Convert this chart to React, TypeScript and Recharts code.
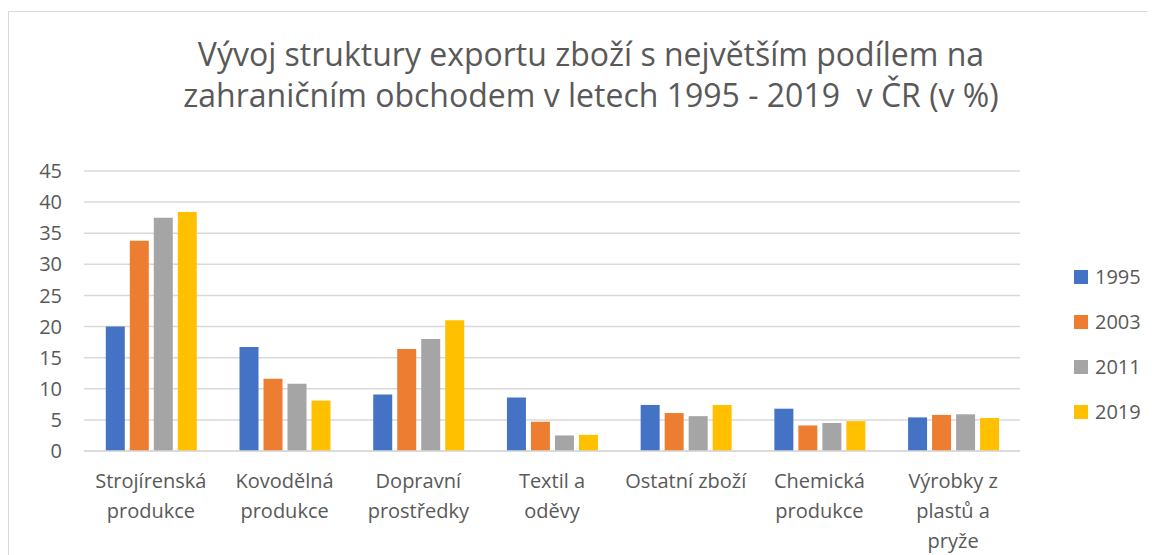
import { BarChart, Bar, XAxis, YAxis, CartesianGrid, Legend } from 'recharts';

const categories = [
  'Strojírenská produkce',
  'Kovodělná produkce',
  'Dopravní prostředky',
  'Textil a oděvy',
  'Ostatní zboží',
  'Chemická produkce',
  'Výrobky z plastů a pryže',
];

// label line breaks as in the original
const categoryLines = [
  ['Strojírenská', 'produkce'],
  ['Kovodělná', 'produkce'],
  ['Dopravní', 'prostředky'],
  ['Textil a', 'oděvy'],
  ['Ostatní zboží'],
  ['Chemická', 'produkce'],
  ['Výrobky z', 'plastů a', 'pryže'],
];

const y1995 = [20.0, 16.7, 9.1, 8.6, 7.4, 6.8, 5.4];
const y2003 = [33.8, 11.6, 16.4, 4.7, 6.1, 4.1, 5.8];
const y2011 = [37.5, 10.8, 18.0, 2.5, 5.6, 4.5, 5.9];
const y2019 = [38.4, 8.1, 21.0, 2.6, 7.4, 4.8, 5.3];

const yTicks = [0, 5, 10, 15, 20, 25, 30, 35, 40, 45];

const series = [
  { key: 'y1995', name: '1995', color: '#4472C4' },
  { key: 'y2003', name: '2003', color: '#ED7D31' },
  { key: 'y2011', name: '2011', color: '#A5A5A5' },
  { key: 'y2019', name: '2019', color: '#FFC000' },
];

const data = categories.map((name, i) => ({
  name,
  y1995: y1995[i],
  y2003: y2003[i],
  y2011: y2011[i],
  y2019: y2019[i],
}));

const FONT = '"Open Sans", sans-serif';
const TEXT = '#595959';

function CategoryTick({ x, y, payload }: any) {
  const i = categories.indexOf(payload.value);
  const lines = categoryLines[i] || [payload.value];
  return (
    <text x={x} y={y + 37} textAnchor="middle" fill={TEXT} fontSize={20} fontFamily={FONT}>
      {lines.map((l, k) => (
        <tspan key={k} x={x} dy={k === 0 ? 0 : 30}>{l}</tspan>
      ))}
    </text>
  );
}

function LegendBox() {
  return (
    <div style={{ fontFamily: FONT, fontSize: 20, color: TEXT }}>
      {series.map((s) => (
        <div key={s.key} style={{ display: 'flex', alignItems: 'center', height: 45 }}>
          <span style={{ width: 14, height: 14, background: s.color, display: 'inline-block', marginRight: 7 }} />
          <span>{s.name}</span>
        </div>
      ))}
    </div>
  );
}

export default function App() {
  return (
    <div style={{ position: 'relative', width: 1147, height: 547 }}>
      <div style={{
        position: 'absolute', left: 0, top: 3, width: 1146, height: 543,
        borderTop: '1px solid #d9d9d9', borderLeft: '1px solid #d9d9d9',
      }} />
      <div style={{
        position: 'absolute', left: 0, top: 25, width: 1166, textAlign: 'center',
        fontFamily: FONT, fontSize: 32, lineHeight: '41px', color: TEXT, whiteSpace: 'pre',
      }}>
        {'Vývoj struktury exportu zboží s největším podílem na\nzahraničním obchodem v letech 1995 - 2019  v ČR (v %)'}
      </div>
      <BarChart
        width={1147}
        height={547}
        data={data}
        margin={{ top: 163, right: 55, bottom: 0, left: 0 }}
        barCategoryGap="16.3%"
        barGap={5}
      >
        <CartesianGrid vertical={false} stroke="#d9d9d9" strokeWidth={1.5} />
        <XAxis
          dataKey="name"
          height={104}
          axisLine={{ stroke: '#d9d9d9', strokeWidth: 1.5 }}
          tickLine={false}
          tickSize={0}
          tickMargin={0}
          interval={0}
          tick={<CategoryTick />}
        />
        <YAxis
          width={76}
          domain={[0, 45]}
          ticks={yTicks}
          axisLine={false}
          tickLine={false}
          tickSize={0}
          tickMargin={22}
          tick={{ fill: TEXT, fontSize: 20, fontFamily: FONT }}
        />
        <Legend
          layout="vertical"
          align="right"
          verticalAlign="middle"
          content={<LegendBox />}
          wrapperStyle={{ position: 'absolute', left: 1066, top: 246, width: 80 }}
        />
        {series.map((s) => (
          <Bar key={s.key} dataKey={s.key} name={s.name} fill={s.color} isAnimationActive={false} />
        ))}
      </BarChart>
    </div>
  );
}
